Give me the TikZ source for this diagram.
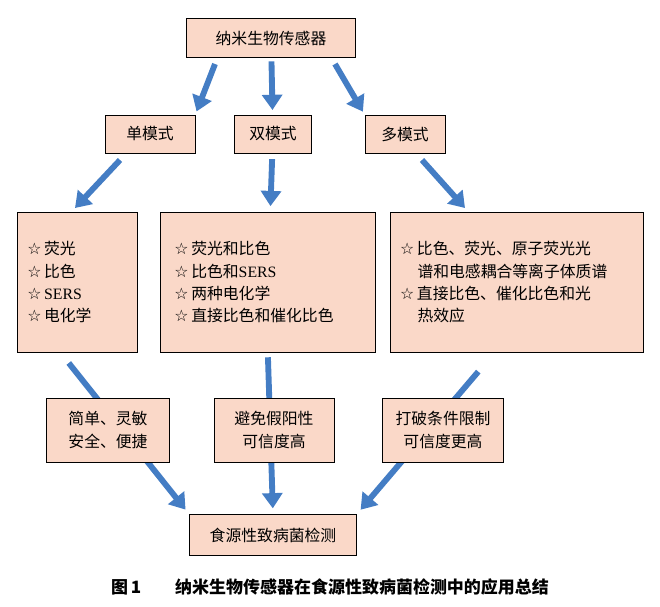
\documentclass[tikz,border=0pt]{standalone}
\usepackage{fontspec}
\setmainfont{Liberation Serif}
\newfontfamily\cjk{Noto Sans CJK SC}
\newfontfamily\sym{DejaVu Sans}
\usetikzlibrary{arrows.meta, backgrounds}
\definecolor{boxfill}{RGB}{250,216,200}
\definecolor{arrowblue}{RGB}{68,125,196}
\newcommand{\st}{{\sym\char"2606}\,}

\begin{document}
\begin{tikzpicture}[
    x=0.03cm, y=-0.03cm,
    font=\cjk\fontsize{13.5}{19}\selectfont,
    box/.style={rectangle, draw=black, line width=0.5pt, fill=boxfill, inner sep=2pt},
    listbox/.style={box, align=left, anchor=north west, inner sep=0pt},
    arrow/.style={draw=arrowblue, line width=5pt, -{Triangle[length=13pt, width=17pt]}}
]
    \useasboundingbox (0,0) rectangle (660,607);

    \node[box, minimum width=5.07cm, minimum height=1.17cm] (top) at (271,38) {纳米生物传感器};
    \node[box, minimum width=2.7cm, minimum height=1.14cm] (single) at (150,134) {单模式};
    \node[box, minimum width=2.31cm, minimum height=1.14cm] (dual) at (273,134) {双模式};
    \node[box, minimum width=2.4cm, minimum height=1.14cm] (multi) at (405,134) {多模式};

    % lists
    \node[listbox, minimum width=3.6cm, minimum height=4.2cm, text width=3.0cm, inner xsep=0.3cm] (leftlist) at (17,212)
        {\st 荧光\\\st 比色\\\st {\rmfamily SERS}\\\st 电化学};
    \node[listbox, minimum width=6.45cm, minimum height=4.2cm, text width=5.6cm, inner xsep=0.42cm] (midlist) at (160,212)
        {\st 荧光和比色\\\st 比色和{\rmfamily SERS}\\\st 两种电化学\\\st 直接比色和催化比色};
    \node[listbox, minimum width=7.59cm, minimum height=4.2cm, text width=7.0cm, inner xsep=0.29cm] (rightlist) at (390,212)
        {\st 比色、荧光、原子荧光光\\\hspace*{1.1em}谱和电感耦合等离子体质谱\\\st 直接比色、催化比色和光\\\hspace*{1.1em}热效应};

    % merits
    \node[box, minimum width=3.69cm, minimum height=1.92cm, align=center] (merit1) at (108,430) {简单、灵敏\\安全、便捷};
    \node[box, minimum width=3.6cm, minimum height=1.92cm, align=center] (merit2) at (274,430) {避免假阳性\\可信度高};
    \node[box, minimum width=3.63cm, minimum height=1.92cm, align=center] (merit3) at (443,430) {打破条件限制\\可信度更高};

    \node[box, minimum width=5.01cm, minimum height=1.23cm] (bottom) at (273,535) {食源性致病菌检测};

    \node[font=\cjk\bfseries\fontsize{14.5}{17}\selectfont] (caption) at (330,587)
        {图\,1\hspace{2em}纳米生物传感器在食源性致病菌检测中的应用总结};

    % arrow ends
    \coordinate (t1) at (215,64);
    \coordinate (t2) at (335,64);
    \coordinate (s1) at (120,160);
    \coordinate (s2) at (75,208);
    \coordinate (m1) at (422,160);
    \coordinate (m2) at (465,208);
    \coordinate (l1) at (60,352);
    \coordinate (r1) at (495,352);

    % Arrows
    \draw[arrow, shorten >=3pt] (t1) -- (single.north east);
    \draw[arrow, shorten <=3pt, shorten >=4pt] (top) -- (dual);
    \draw[arrow, shorten >=3pt] (t2) -- (multi.north west);
    \draw[arrow] (s1) -- (s2);
    \draw[arrow, shorten <=5pt, shorten >=5pt] (dual) -- (midlist);
    \draw[arrow] (m1) -- (m2);
    \begin{scope}[on background layer]
        \draw[arrow, shorten <=12pt, shorten >=5pt] (l1) -- (bottom.north west);
        \draw[arrow, shorten <=4pt, shorten >=5pt] (midlist.south) -- (bottom.north);
        \draw[arrow, shorten <=22pt, shorten >=5pt] (r1) -- (bottom.north east);
    \end{scope}
\end{tikzpicture}
\end{document}
